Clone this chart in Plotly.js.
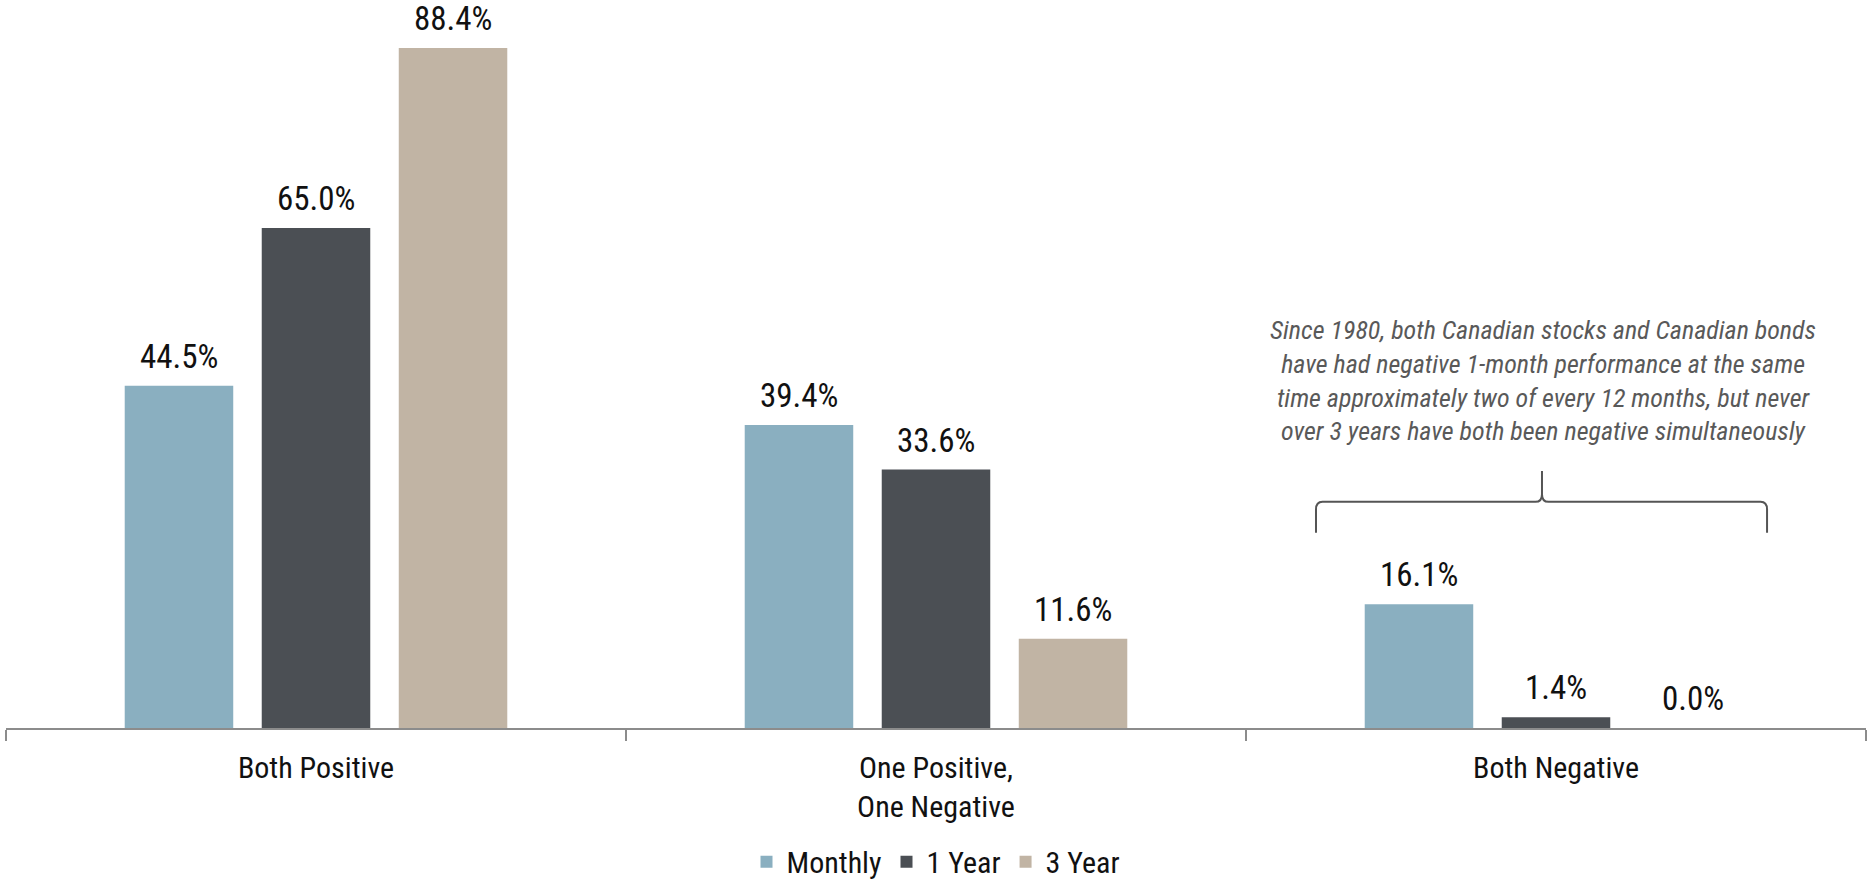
<!DOCTYPE html>
<html>
<head>
<meta charset="utf-8">
<script src="https://cdn.plot.ly/plotly-3.0.1.min.js"></script>
<style>
  html, body { margin: 0; padding: 0; background: #ffffff; }
  #chart { width: 1868px; height: 880px; }
</style>
</head>
<body>
<div id="chart"></div>
<script>
// Share of periods by joint sign of Canadian stock and bond returns
const categories = ['Both Positive', 'One Positive,<br>One Negative', 'Both Negative'];
const seriesNames = ['Monthly', '1 Year', '3 Year'];
const monthly = [44.5, 39.4, 16.1];
const oneYear = [65.0, 33.6, 1.4];
const threeYear = [88.4, 11.6, 0.0];
const seriesColors = ['#8aafc0', '#4b4f54', '#c1b4a4'];

const noteText = 'Since 1980, both Canadian stocks and Canadian bonds<br>' +
  'have had negative 1-month performance at the same<br>' +
  'time approximately two of every 12 months, but never<br>' +
  'over 3 years have both been negative simultaneously';

const FONT = '"Roboto Condensed", "Liberation Sans Narrow", "DejaVu Sans Condensed", sans-serif';
const W = 1868, H = 880;
const margin = { l: 6, r: 2, t: 5, b: 152, autoexpand: false };
const bargap = 0.337;
const bargroupgap = 0.208;

const seriesValues = [monthly, oneYear, threeYear];

const traces = seriesValues.map((vals, i) => ({
  type: 'bar',
  name: seriesNames[i],
  x: categories,
  y: vals,
  marker: { color: seriesColors[i], line: { width: 0 } },
  hoverinfo: 'skip'
}));

// Value labels above each bar, shifted to the bar's slot within its group
const plotW = W - margin.l - margin.r;
const slotPx = (plotW / categories.length) * (1 - bargap) / seriesValues.length;
const annotations = [];
seriesValues.forEach((vals, i) => {
  vals.forEach((v, j) => {
    annotations.push({
      x: categories[j], y: v, xref: 'x', yref: 'y',
      xshift: (i - (seriesValues.length - 1) / 2) * slotPx,
      yshift: 8,
      yanchor: 'bottom', xanchor: 'center',
      text: v.toFixed(1) + '%',
      showarrow: false,
      font: { family: FONT, size: 33, color: '#111111' }
    });
  });
});

// Explanatory note over the "Both Negative" group
annotations.push({
  x: 0.8263, xref: 'paper', y: 36.4, yref: 'y',
  xanchor: 'center', yanchor: 'bottom',
  text: '<i>' + noteText + '</i>',
  showarrow: false, align: 'center',
  font: { family: FONT, size: 26, color: '#595959' }
});

// Curly brace under the note
const bx0 = 0.7043, bxm = 0.8258, bx1 = 0.9468;
const yb = 25.4, yh = 29.4, ytop = 33.4, rx = 0.0035, ry = 1.0;
const bracePath =
  `M${bx0},${yb} L${bx0},${yh - ry} Q${bx0},${yh} ${bx0 + rx},${yh} ` +
  `L${bxm - rx},${yh} Q${bxm},${yh} ${bxm},${yh + ry} L${bxm},${ytop} ` +
  `M${bxm},${yh + ry} Q${bxm},${yh} ${bxm + rx},${yh} ` +
  `L${bx1 - rx},${yh} Q${bx1},${yh} ${bx1},${yh - ry} L${bx1},${yb}`;

const layout = {
  width: W, height: H,
  margin: margin,
  paper_bgcolor: '#ffffff',
  plot_bgcolor: '#ffffff',
  barmode: 'group',
  bargap: bargap,
  bargroupgap: bargroupgap,
  showlegend: true,
  legend: {
    orientation: 'h',
    x: 0.5, xanchor: 'center',
    yref: 'paper', y: -0.185, yanchor: 'middle',
    font: { family: FONT, size: 30, color: '#111111' },
    itemclick: false, itemdoubleclick: false,
    tracegroupgap: 0
  },
  xaxis: {
    type: 'category',
    showline: true, linecolor: '#8c8c8c', linewidth: 2,
    ticks: 'outside', tickson: 'boundaries', ticklen: 11,
    tickcolor: '#8c8c8c', tickwidth: 1.5,
    showgrid: false, zeroline: false,
    ticklabelstandoff: 12,
    tickfont: { family: FONT, size: 30, color: '#111111' },
    fixedrange: true
  },
  yaxis: {
    range: [0, 94],
    visible: false,
    showgrid: false, zeroline: false,
    fixedrange: true
  },
  shapes: [{
    type: 'path', xref: 'paper', yref: 'y',
    path: bracePath,
    line: { color: '#555555', width: 2 }
  }],
  annotations: annotations
};

Plotly.newPlot('chart', traces, layout, { displayModeBar: false, staticPlot: true });
</script>
</body>
</html>
